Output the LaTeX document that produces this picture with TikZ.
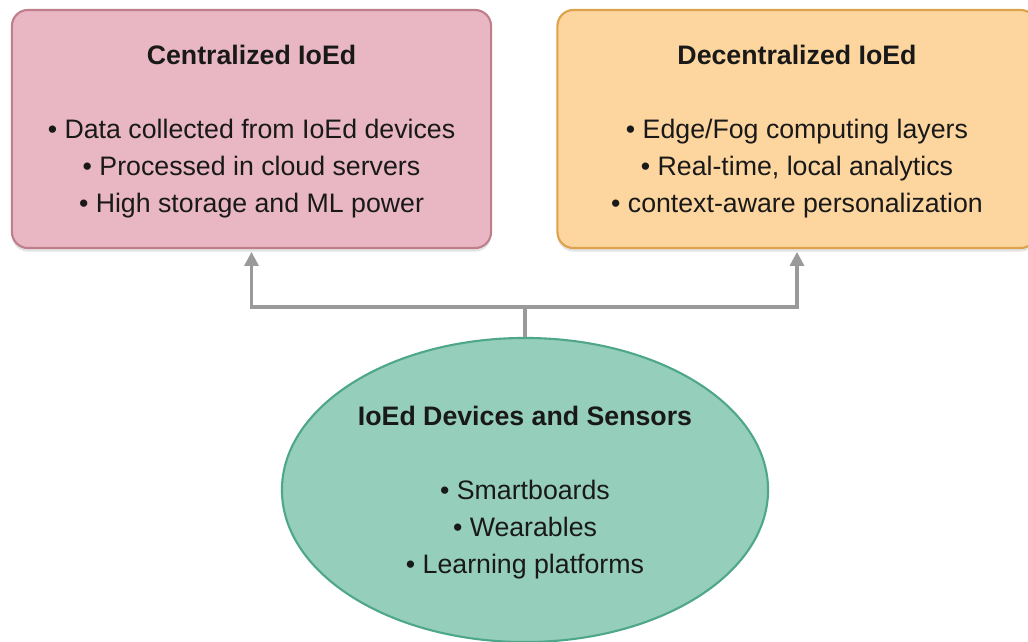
\documentclass[tikz,border=0pt]{standalone}
\usepackage{fontspec}
\setmainfont{Liberation Sans}
\usetikzlibrary{arrows.meta,positioning,shapes.geometric,shadows}

\definecolor{cloudfill}{HTML}{E8B7C3}
\definecolor{clouddraw}{HTML}{BE7E8B}
\definecolor{edgefill}{HTML}{FDD59F}
\definecolor{edgedraw}{HTML}{DDA24C}
\definecolor{devfill}{HTML}{95CEBA}
\definecolor{devdraw}{HTML}{4FA78A}
\definecolor{linkgray}{HTML}{9A9A9A}

% strut that pushes the node text a little lower
\newcommand{\topstrut}{\rule{0pt}{17.3pt}}

\tikzset{
  layerbox/.style={draw, line width=1.5pt, rounded corners=0.4cm,
    minimum width=11.975cm, minimum height=5.95cm, inner sep=0pt,
    align=center, text=black!90,
    font=\fontsize{19}{26.3}\selectfont,
    drop shadow={opacity=0.22, shadow xshift=0pt, shadow yshift=-2.5pt}},
  devblob/.style={ellipse, draw=devdraw, fill=devfill, line width=1.5pt,
    minimum width=12.15cm, minimum height=7.6cm, inner sep=0pt,
    align=center, text=black!90,
    font=\fontsize{19}{26.3}\selectfont},
  link/.style={draw=linkgray, line width=2.2pt,
    -{Triangle[width=10pt,length=10pt]}}
}

\begin{document}
\begin{tikzpicture}[x=0.025cm,y=-0.025cm]
\useasboundingbox[fill=white] (0,0) rectangle (1028,641);

% Processing layers
\node[layerbox, draw=clouddraw, fill=cloudfill] (central) at (251.5,129)
  {\topstrut\textbf{Centralized IoEd}\\[26.3pt]
   \textbullet\ Data collected from IoEd devices\\
   \textbullet\ Processed in cloud servers\\
   \textbullet\ High storage and ML power};
\node[layerbox, draw=edgedraw, fill=edgefill] (decentral) at (797,129)
  {\topstrut\textbf{Decentralized IoEd}\\[26.3pt]
   \textbullet\ Edge/Fog computing layers\\
   \textbullet\ Real-time, local analytics\\
   \textbullet\ context-aware personalization};

% Device layer
\node[devblob] (devices) at (525,490)
  {\rule{0pt}{16.8pt}\textbf{IoEd Devices and Sensors}\\[26.3pt]
   \textbullet\ Smartboards\\
   \textbullet\ Wearables\\
   \textbullet\ Learning platforms};

% Data flow
\coordinate (split) at (525,307);
\draw[draw=linkgray, line width=2.2pt] (devices.north) -- (split);
\draw[link] (split) -| ([yshift=-2pt]central.south);
\draw[link] (split) -| ([yshift=-2pt]decentral.south);
\end{tikzpicture}
\end{document}
